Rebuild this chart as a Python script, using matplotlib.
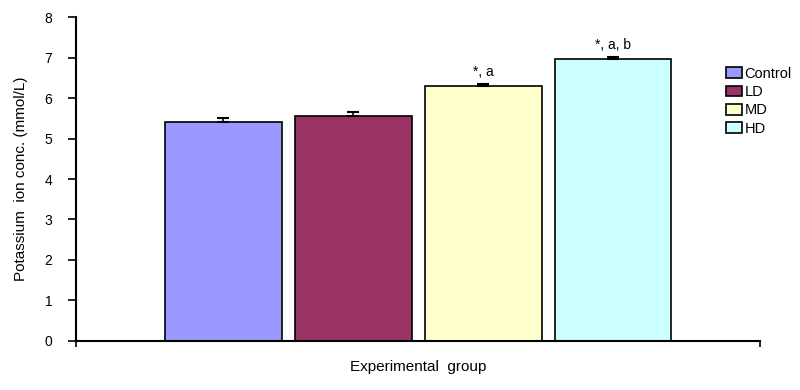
import matplotlib.pyplot as plt

plt.rcParams['font.family'] = ['Liberation Sans', 'DejaVu Sans']

groups = ['Control', 'LD', 'MD', 'HD']
means = [5.4, 5.56, 6.3, 6.97]
errs = [0.1, 0.09, 0.04, 0.05]
marks = ['', '', '*, a', '*, a, b']
colors = ['#9999FF', '#993366', '#FFFFCC', '#CCFFFF']

fig = plt.figure(figsize=(8, 3.9), dpi=100)
ax = fig.add_axes([0.095, 0.126, 0.855, 0.83])

xs = range(len(groups))
for i in xs:
    ax.bar(i, means[i], width=0.9, color=colors[i], edgecolor='black',
           linewidth=1.2, label=groups[i], zorder=2)
    ax.errorbar(i, means[i], yerr=[[0], [errs[i]]], fmt='none', ecolor='black',
                elinewidth=1.2, capsize=4, capthick=1.5, zorder=3)
    if marks[i]:
        ax.text(i, means[i] + errs[i] + 0.12, marks[i], ha='center', va='bottom', fontsize=10)

xl = (-1.136, 4.133)
ax.set_xlim(xl)
ax.set_ylim(0, 8)
ax.set_yticks(range(9))
ax.tick_params(axis='y', labelsize=10, length=6, width=1.2, direction='out', pad=11)
ax.set_xticks(xl)
ax.set_xticklabels(['', ''])
ax.tick_params(axis='x', length=4, width=1.2, direction='out')
for s in ['top', 'right']:
    ax.spines[s].set_visible(False)
for s in ['left', 'bottom']:
    ax.spines[s].set_linewidth(1.5)

ax.set_ylabel('Potassium  ion conc. (mmol/L)', fontsize=11, labelpad=12)
ax.set_xlabel('Experimental  group', fontsize=11, labelpad=6)

ax.legend(loc='upper left', bbox_to_anchor=(0.942, 0.865), frameon=False, fontsize=10.5,
          handlelength=1.1, handleheight=0.75, handletextpad=0.15, labelspacing=0.3,
          borderaxespad=0)

fig.savefig('out.png', dpi=100)
